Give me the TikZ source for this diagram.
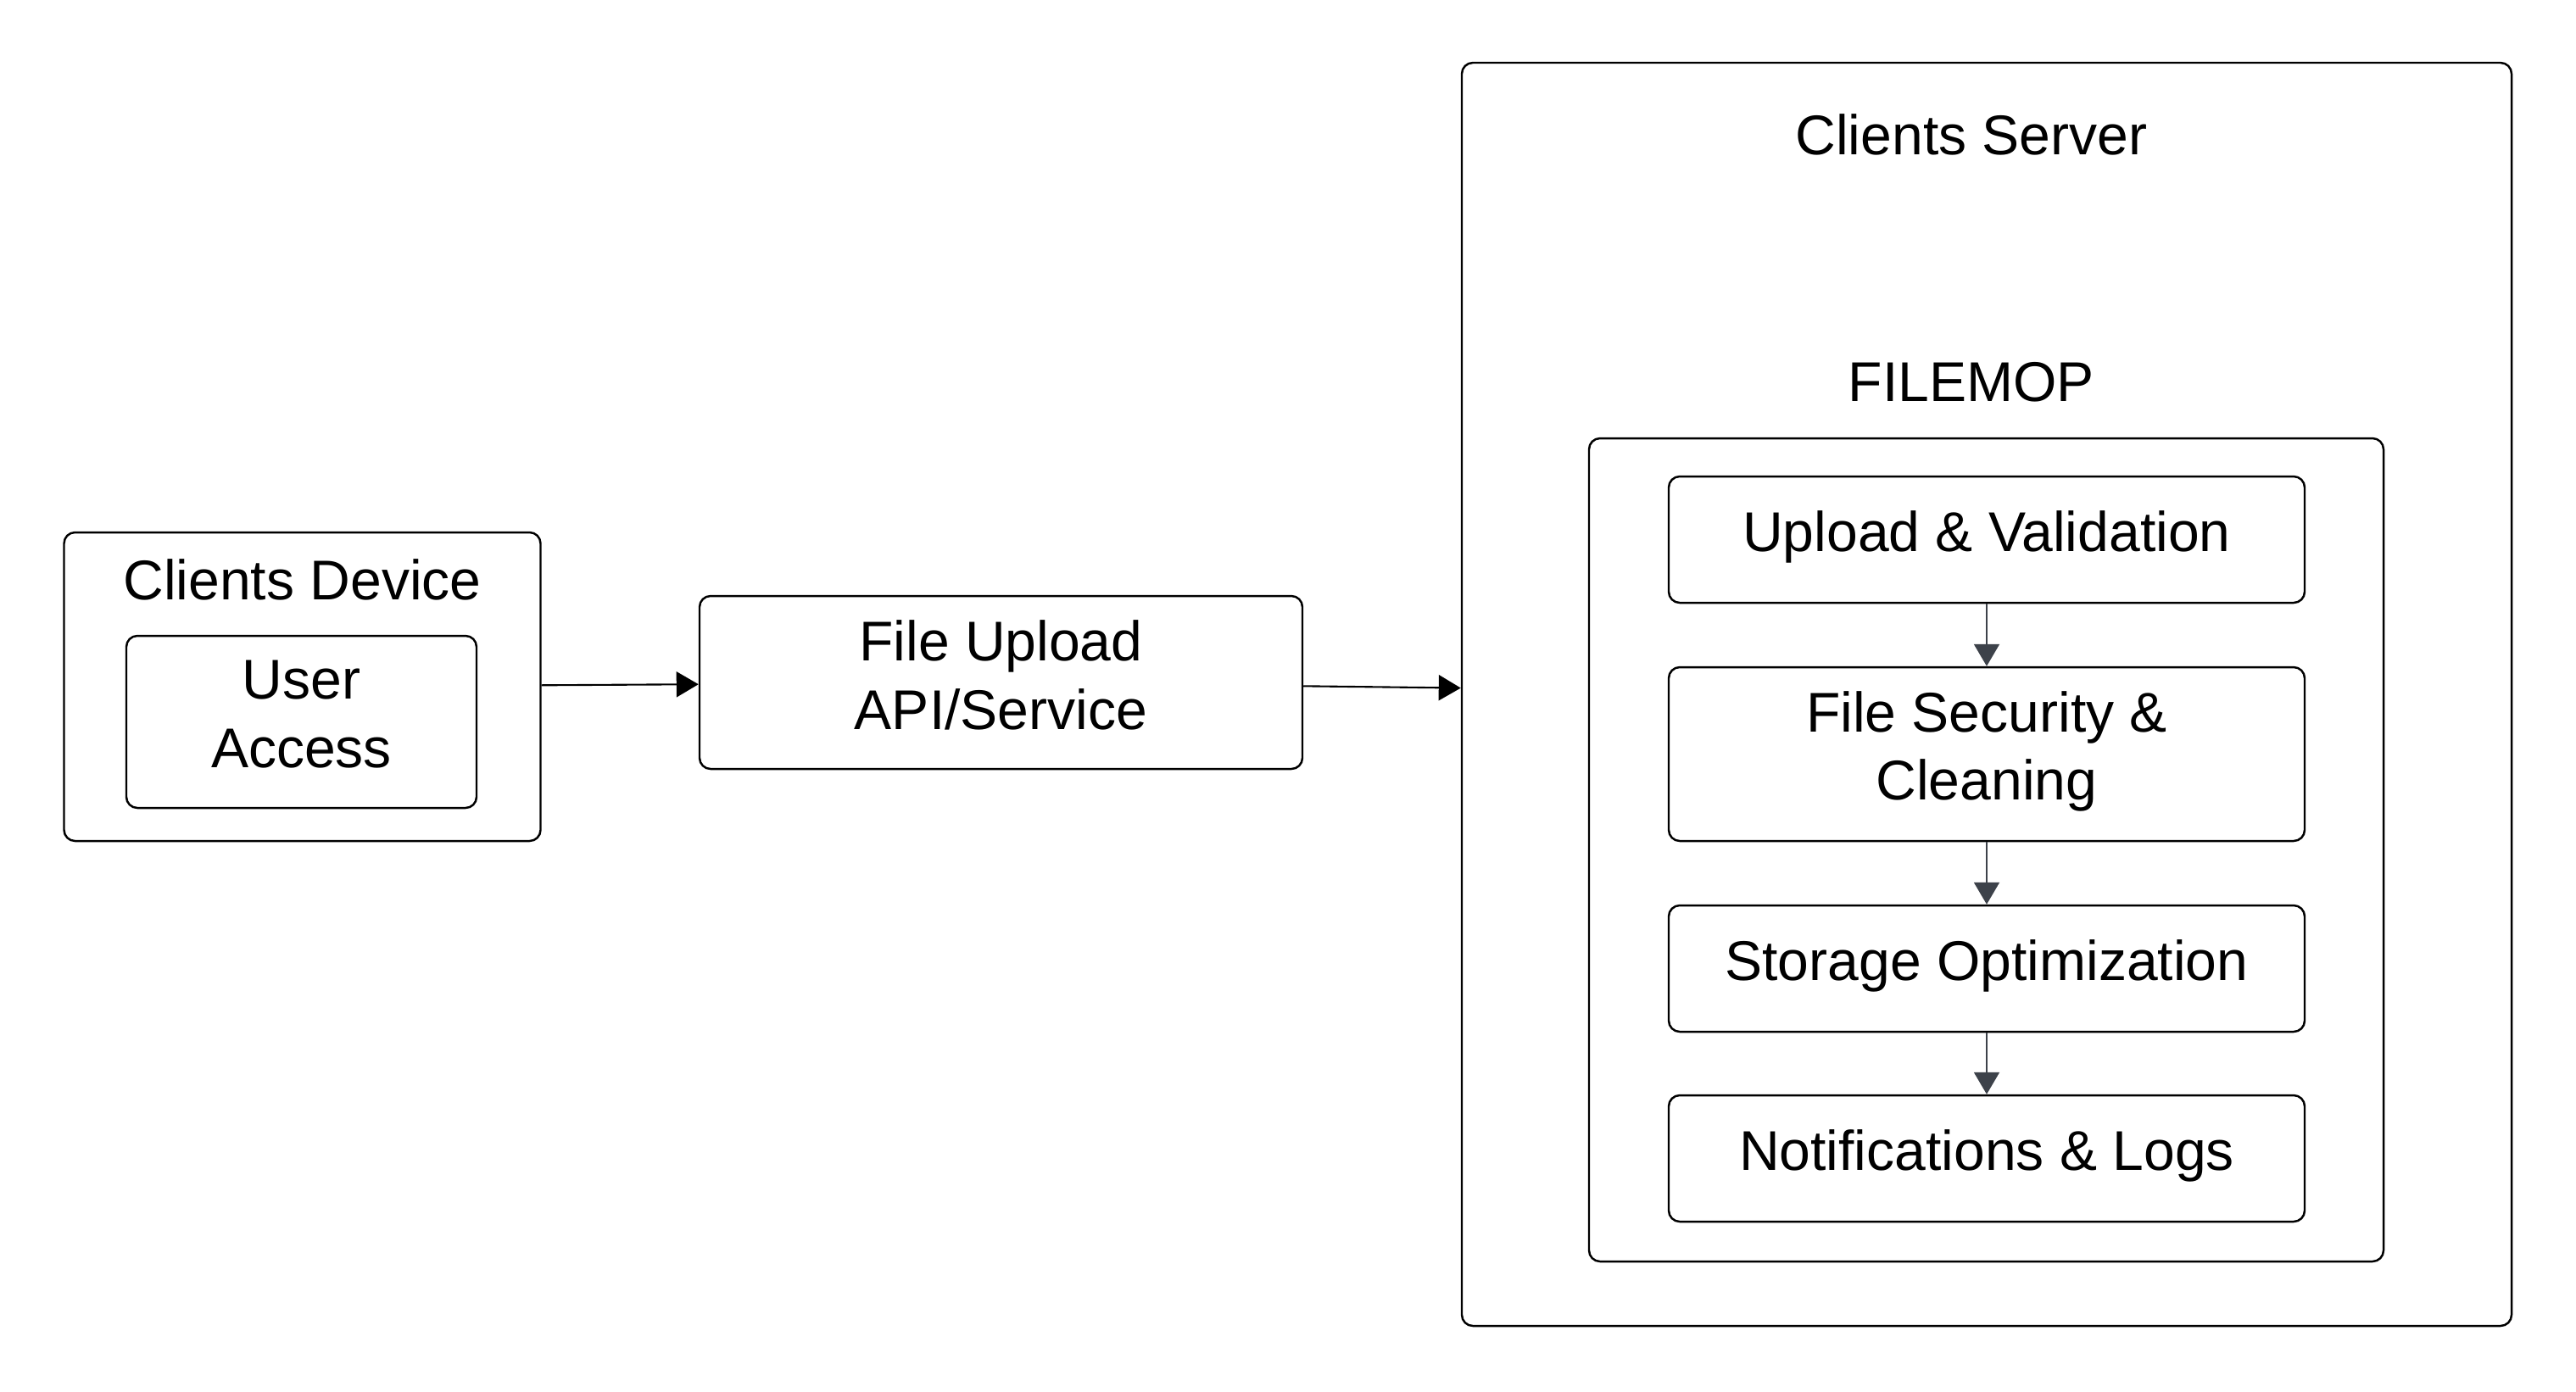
\documentclass[tikz,border=0pt]{standalone}
\usepackage{fontspec}
\setmainfont{Liberation Sans}
\usetikzlibrary{arrows.meta,positioning}
\tikzstyle{arrow} = [line width=0.6pt,-{Triangle[length=0.26cm,width=0.3cm]}]
\tikzstyle{stage} = [minimum width=7.5cm, align=center, text depth=0.2cm]

\begin{document}
\begin{tikzpicture}[every node/.style={shape=rectangle,draw,rounded corners=0.13cm,line width=0.7pt,inner sep=0pt,font=\fontsize{18.8}{23}\selectfont},]
    \useasboundingbox (0,0) rectangle (30.38,-16.41);
    % create the nodes
    \node (device) [minimum width=5.62cm, minimum height=3.64cm] at (3.565,-8.10) {};
    \node (devlabel) [draw=none] at (3.565,-6.84) {Clients Device};
    \node (user) [minimum width=4.13cm, minimum height=2.03cm, align=center, text depth=0.18cm] at (3.555,-8.515) {User\\Access};
    \node (upload) [minimum width=7.11cm, minimum height=2.04cm, align=center, text depth=0.18cm] at (11.805,-8.05) {File Upload\\API/Service};
    \node (server) [minimum width=12.38cm, minimum height=14.90cm] at (23.43,-8.19) {};
    \node (srvlabel) [draw=none] at (23.25,-1.59) {Clients Server};
    \node (filemop) [minimum width=9.37cm, minimum height=9.71cm] at (23.425,-10.025) {};
    \node (moplabel) [draw=none] at (23.25,-4.51) {FILEMOP};
    \node (valid) [stage, minimum height=1.49cm] at (23.43,-6.365) {Upload \& Validation};
    \node (clean) [stage, minimum height=2.05cm] at (23.43,-8.895) {File Security \&\\Cleaning};
    \node (store) [stage, minimum height=1.49cm] at (23.43,-11.425) {Storage Optimization};
    \node (notify) [stage, minimum height=1.49cm] at (23.43,-13.665) {Notifications \& Logs};
    % connect the nodes
    \draw[arrow] (device) -- (upload);
    \draw[arrow] (upload) -- (server);
    \draw[arrow, draw={rgb,255:red,61;green,66;blue,74}] (valid) -- (clean);
    \draw[arrow, draw={rgb,255:red,61;green,66;blue,74}] (clean) -- (store);
    \draw[arrow, draw={rgb,255:red,61;green,66;blue,74}] (store) -- (notify);
\end{tikzpicture}
\end{document}
